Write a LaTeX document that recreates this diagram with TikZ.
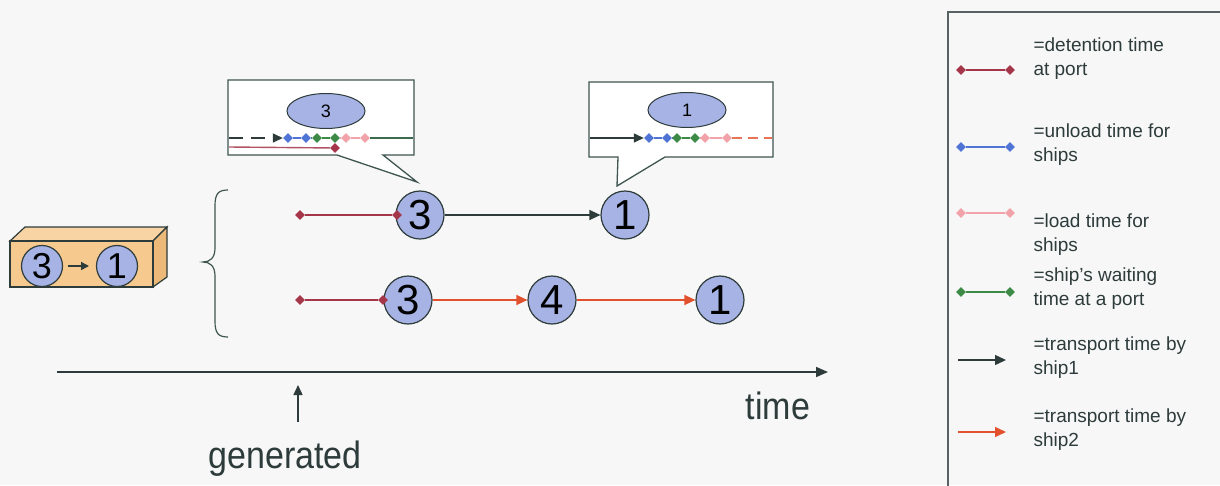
\documentclass[tikz,border=0pt]{standalone}
\usepackage{fontspec}
\setmainfont{Liberation Sans}
\usetikzlibrary{shapes.geometric,arrows.meta,calc}
\definecolor{bg}{HTML}{F7F7F7}
\definecolor{circfill}{HTML}{A6B3E4}
\definecolor{dark}{HTML}{2E3B3B}
\definecolor{det}{HTML}{A53549}
\definecolor{unl}{HTML}{4F74D6}
\definecolor{lod}{HTML}{F2A3AA}
\definecolor{wai}{HTML}{3C8A46}
\definecolor{sh2}{HTML}{E2512E}
\definecolor{boxfill}{HTML}{F6C98E}
\definecolor{boxside}{HTML}{EDB979}
\definecolor{frame}{HTML}{3E5550}
\begin{document}
\begin{tikzpicture}[x=1pt,y=-1pt,
  port/.style={circle, draw=dark, line width=1.2pt, fill=circfill, minimum size=48pt, inner sep=0pt, font=\fontsize{42}{42}\selectfont},
  smallport/.style={circle, draw=dark, line width=1.2pt, fill=circfill, minimum size=41pt, inner sep=0pt, font=\fontsize{36}{36}\selectfont},
  bubble/.style={ellipse, draw=dark, line width=1pt, fill=circfill, minimum width=78pt, minimum height=35pt, inner sep=0pt, font=\fontsize{18}{18}\selectfont},
  dia/.style={diamond, fill=#1, inner sep=0pt, minimum size=10pt},
  tarrow/.style={-{Triangle[length=11pt,width=10pt]}, line width=1.4pt},
  seg/.style={line width=1.4pt},
  legtext/.style={anchor=west, align=left, text=dark, font=\fontsize{19}{24}\selectfont},
  bigtext/.style={text=dark, font=\fontsize{34}{34}\selectfont},
  callout/.style={draw=frame, line width=1.3pt, fill=white},
]
\useasboundingbox[fill=bg] (0,0) rectangle (1220,485);

% ---------- cargo box ----------
\draw[dark, line width=1.2pt, fill=boxfill!80!white] (10,241) -- (25,227) -- (167,227) -- (153,241) -- cycle;
\draw[dark, line width=1.2pt, fill=boxside] (153,241) -- (167,227) -- (167,277) -- (153,287) -- cycle;
\draw[dark, line width=1.2pt, fill=boxfill] (10,241) rectangle (153,287);
\node[smallport] (b3) at (42,266) {3};
\node[smallport] (b1) at (117,266) {1};
\coordinate (ba0) at (68,266);
\coordinate (ba1) at (89,266);
\draw[-{Triangle[length=8pt,width=8pt]}, line width=1.5pt, dark] (ba0) -- (ba1);

% ---------- brace ----------
\draw[frame, line width=1.2pt] (228,190) .. controls (218,190) and (215,194) .. (215,206) -- (215,248)
  .. controls (215,258) and (210,262) .. (203,262)
  .. controls (210,262) and (215,266) .. (215,276) -- (215,321)
  .. controls (215,333) and (218,337) .. (228,337);

% ---------- row 1 ----------
\node[port] (r1p3) at (420,215) {3};
\node[port] (r1p1) at (625,215) {1};
\node[dia=det] (r1a) at (300,215) {};
\node[dia=det] (r1b) at (397,215) {};
\draw[seg, det] (r1a) -- (r1b);
\draw[tarrow, dark] (r1p3) -- (r1p1);

% ---------- row 2 ----------
\node[port] (r2p3) at (408,300) {3};
\node[port] (r2p4) at (552,300) {4};
\node[port] (r2p1) at (720,300) {1};
\node[dia=det] (r2a) at (300,300) {};
\node[dia=det] (r2b) at (383,300) {};
\draw[seg, det] (r2a) -- (r2b);
\draw[tarrow, sh2] (r2p3) -- (r2p4);
\draw[tarrow, sh2] (r2p4) -- (r2p1);

% ---------- callout 1 ----------
\draw[callout] (228,80) -- (414,80) -- (414,155) -- (383,155) -- (417,182) -- (337,155) -- (228,155) -- cycle;
\node[bubble] (c1e) at (326,111) {3};
\coordinate (c1l) at (229,138);
\coordinate (c1r) at (413,138);
\coordinate (c1rl) at (229,147);
\node[dia=unl] (c1u1) at (288,138) {};
\node[dia=unl] (c1u2) at (306,138) {};
\node[dia=wai] (c1w1) at (317,138) {};
\node[dia=wai] (c1w2) at (335,138) {};
\node[dia=lod] (c1l1) at (346,138) {};
\node[dia=lod] (c1l2) at (365,138) {};
\node[dia=det] (c1d) at (335,148) {};
\draw[seg, dark, dash pattern=on 14pt off 8pt, -{Triangle[length=10pt,width=9pt]}] (c1l) -- (c1u1.west);
\draw[seg, unl] (c1u1) -- (c1u2);
\draw[seg, unl!50!wai] (c1u2) -- (c1w1);
\draw[seg, wai] (c1w1) -- (c1w2);
\draw[seg, lod] (c1w2) -- (c1l1);
\draw[seg, lod] (c1l1) -- (c1l2);
\draw[seg, frame!60!wai] (c1l2) -- (c1r);
\draw[seg, det!85!white] (c1rl) -- (c1d);

% ---------- callout 2 ----------
\draw[callout] (589,82) -- (773,82) -- (773,157) -- (665,157) -- (617,186) -- (618,157) -- (589,157) -- cycle;
\node[bubble] (c2e) at (687,110) {1};
\coordinate (c2l) at (590,138);
\coordinate (c2r) at (772,138);
\node[dia=unl] (c2u1) at (649,138) {};
\node[dia=unl] (c2u2) at (667,138) {};
\node[dia=wai] (c2w1) at (677,138) {};
\node[dia=wai] (c2w2) at (695,138) {};
\node[dia=lod] (c2l1) at (705,138) {};
\node[dia=lod] (c2l2) at (727,138) {};
\draw[seg, dark, -{Triangle[length=10pt,width=9pt]}] (c2l) -- (c2u1.west);
\draw[seg, unl] (c2u1) -- (c2u2);
\draw[seg, unl!50!wai] (c2u2) -- (c2w1);
\draw[seg, wai] (c2w1) -- (c2w2);
\draw[seg, lod] (c2w2) -- (c2l1);
\draw[seg, lod] (c2l1) -- (c2l2);
\draw[seg, sh2!80!white, dash pattern=on 10pt off 6pt] (c2l2) -- (c2r);

% ---------- time axis ----------
\coordinate (ax0) at (57,372);
\coordinate (ax1) at (828,372);
\draw[dark, line width=1.6pt, -{Triangle[length=12pt,width=10pt]}] (ax0) -- (ax1);
\node[bigtext] (time) at (778,406) {\scalebox{1}[1.12]{time}};
\node[bigtext] (gen) at (285,459) {\scalebox{1}[1.12]{generated}};
\coordinate (g0) at (298,422);
\coordinate (g1) at (298,385);
\draw[dark, line width=1.4pt, -{Triangle[length=10pt,width=9pt]}] (g0) -- (g1);

% ---------- legend ----------
\draw[dark!80, line width=1.3pt] (948,12) rectangle (1235,500);
% detention
\node[dia=det] (ld1) at (961,70) {};
\node[dia=det] (ld2) at (1010,70) {};
\draw[seg, det] (ld1) -- (ld2);
\node[legtext] (lt1) at (1030,59) {=detention time\\at port};
% unload
\node[dia=unl] (lu1) at (961,147) {};
\node[dia=unl] (lu2) at (1010,147) {};
\draw[seg, unl] (lu1) -- (lu2);
\node[legtext] (lt2) at (1030,145) {=unload time for\\ships};
% load
\node[dia=lod] (ll1) at (961,213) {};
\node[dia=lod] (ll2) at (1010,213) {};
\draw[seg, lod] (ll1) -- (ll2);
\node[legtext] (lt3) at (1030,235) {=load time for\\ships};
% waiting
\node[dia=wai] (lw1) at (961,292) {};
\node[dia=wai] (lw2) at (1010,292) {};
\draw[seg, wai] (lw1) -- (lw2);
\node[legtext] (lt4) at (1030,289) {=ship's waiting\\time at a port};
% ship1
\coordinate (ls1a) at (958,360);
\coordinate (ls1b) at (1006,360);
\draw[tarrow, dark] (ls1a) -- (ls1b);
\node[legtext] (lt5) at (1030,358) {=transport time by\\ship1};
% ship2
\coordinate (ls2a) at (958,432);
\coordinate (ls2b) at (1006,432);
\draw[tarrow, sh2] (ls2a) -- (ls2b);
\node[legtext] (lt6) at (1030,430) {=transport time by\\ship2};
\end{tikzpicture}
\end{document}
